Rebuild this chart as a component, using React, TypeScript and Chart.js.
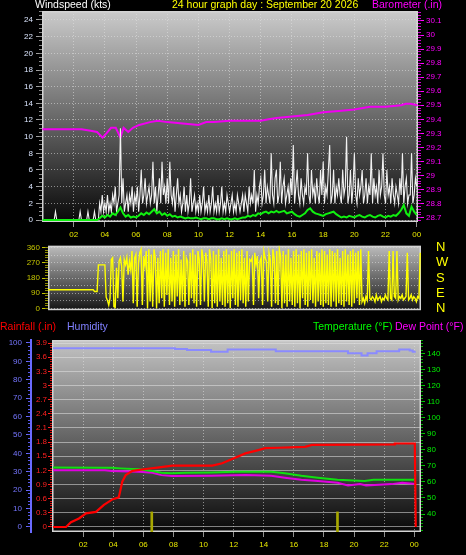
import React, { useEffect, useRef } from "react";
import { Chart, registerables } from "chart.js";

Chart.register(...registerables);

const FAMILY = "'Liberation Sans', Arial, sans-serif";

// ---------- Top chart: wind gust (5-minute samples, hour = index / 12) ----------
const windGust = [
  0, 0, 0, 0, 0, 0, 0, 0, 0, 0, 1, 0,
  0, 0, 0, 0, 0, 0, 0, 0, 0, 0, 0, 0,
  0, 0, 0, 0, 0, 1, 0, 0, 0, 0, 0, 1,
  0, 0, 0, 0, 1, 0, 0, 0, 2, 1, 3, 1,
  2, 1, 3, 1, 2, 1, 3, 2, 4, 1, 2, 3,
  11, 2, 5, 1, 2, 3, 1, 3, 2, 4, 1, 3,
  2, 4, 1, 3, 6, 2, 3, 5, 2, 3, 4, 2,
  3, 7, 2, 4, 1, 3, 5, 2, 7, 3, 4, 2,
  5, 2, 7, 3, 2, 4, 1, 3, 5, 2, 3, 1,
  2, 4, 1, 3, 1, 2, 5, 1, 2, 3, 1, 2,
  1, 3, 1, 2, 4, 1, 2, 1, 3, 1, 2, 4,
  1, 2, 1, 3, 1, 2, 4, 1, 2, 1, 3, 2,
  1, 2, 3, 1, 2, 1, 3, 2, 1, 2, 3, 1,
  3, 2, 1, 4, 2, 3, 2, 6, 1, 3, 2, 4,
  5, 2, 3, 6, 2, 4, 3, 2, 8, 3, 2, 5,
  6, 2, 3, 7, 2, 4, 5, 2, 3, 4, 2, 5,
  3, 9, 2, 4, 6, 3, 2, 5, 3, 2, 4, 3,
  8, 3, 2, 6, 3, 4, 2, 5, 3, 2, 6, 3,
  7, 2, 4, 3, 6, 9, 2, 3, 6, 2, 4, 3,
  5, 3, 2, 6, 3, 4, 10, 2, 3, 6, 2, 4,
  8, 3, 2, 5, 3, 4, 6, 2, 3, 5, 2, 4,
  3, 8, 2, 5, 3, 4, 2, 6, 3, 4, 8, 3,
  2, 6, 3, 4, 2, 5, 3, 2, 4, 3, 2, 5,
  3, 8, 2, 4, 5, 2, 3, 3, 8, 2, 3, 5,
  4,
];
// average wind (10-minute samples, hour = index / 6)
const windAvg = [
  0, 0, 0, 0, 0, 0, 0, 0, 0, 0, 0, 0, 0, 0, 0, 0, 0, 0, 0, 0, 0, 0,
  0.2, 0.5, 0.3, 0.6, 0.4, 0.8, 0.6, 1.0, 1.5, 0.8, 0.4, 0.6, 0.3, 0.4, 0.3, 0.5, 0.8, 0.6, 0.9, 0.7, 1.0, 1.3, 0.8, 1.0, 0.6, 0.8,
  0.5, 0.7, 0.4, 0.5, 0.3, 0.4, 0.3, 0.2, 0.3, 0.2, 0.2, 0.3, 0.2, 0.1, 0.2, 0.2, 0.1, 0.2, 0.2, 0.1, 0.1, 0.2, 0.1, 0.2,
  0.1, 0.1, 0.2, 0.1, 0.2, 0.3, 0.3, 0.5, 0.4, 0.6, 0.5, 0.8, 0.7, 0.9, 1.0, 0.8, 1.0, 0.9, 1.1, 0.9, 1.0, 1.1, 0.8, 0.9,
  1.0, 0.7, 0.5, 0.4, 0.6, 0.8, 1.2, 1.4, 1.0, 0.8, 0.7, 0.6, 0.5, 0.7, 0.8, 0.9, 1.0, 0.7, 0.5, 0.3, 0.4, 0.3, 0.5, 0.4,
  0.3, 0.5, 0.6, 0.4, 0.3, 0.5, 0.6, 0.4, 0.3, 0.5, 0.6, 0.4, 0.3, 0.5, 0.4, 0.6, 0.5, 0.8, 1.2, 1.8, 0.8, 0.5, 1.6, 1.0, 0.6,
];
const baroHours = [0, 1, 2, 2.5, 3, 3.5, 3.85, 4.1, 4.4, 4.7, 5.0, 5.2, 5.5, 5.8, 6.2, 6.9, 7.4, 8, 9, 10, 10.5, 11, 12, 13, 14, 14.5, 15, 16, 17, 18, 19, 20, 21, 22, 23, 23.3, 23.6, 24.05];
const baroValues = [29.33, 29.33, 29.33, 29.33, 29.32, 29.31, 29.27, 29.3, 29.34, 29.34, 29.27, 29.34, 29.31, 29.34, 29.36, 29.38, 29.39, 29.38, 29.37, 29.36, 29.38, 29.38, 29.39, 29.39, 29.39, 29.4, 29.41, 29.42, 29.43, 29.45, 29.46, 29.47, 29.49, 29.49, 29.5, 29.51, 29.51, 29.5];

// ---------- Middle chart: wind direction (5-minute samples) ----------
const windDir = [
  110, 110, 110, 110, 110, 110, 110, 110, 110, 110, 110, 110,
  110, 110, 110, 110, 110, 110, 110, 110, 110, 110, 110, 110,
  110, 110, 110, 110, 110, 110, 110, 110, 110, 110, 110, 110,
  100, 100, 100, 258, 258, 258, 258, 258, 258, 66, 47, 19,
  60, 290, 300, 10, 5, 240, 60, 280, 300, 250, 40, 290,
  260, 300, 200, 280, 230, 340, 30, 300, 320, 10, 270, 330,
  350, 20, 310, 250, 340, 0, 350, 40, 320, 10, 350, 300,
  0, 300, 30, 340, 60, 350, 10, 330, 80, 350, 20, 300,
  40, 340, 10, 320, 70, 350, 20, 290, 40, 340, 10, 300,
  280, 20, 330, 60, 350, 30, 320, 10, 340, 290, 20, 350,
  300, 40, 330, 280, 10, 350, 290, 0, 340, 30, 320, 10,
  350, 40, 300, 20, 340, 10, 350, 30, 320, 0, 340, 60,
  350, 20, 330, 10, 340, 50, 350, 30, 300, 10, 340, 40,
  290, 280, 300, 20, 330, 260, 310, 60, 280, 300, 20, 340,
  300, 280, 40, 330, 290, 10, 350, 300, 30, 340, 20, 350,
  310, 0, 340, 30, 320, 10, 350, 40, 300, 20, 340, 10,
  350, 30, 320, 0, 340, 60, 350, 20, 330, 10, 340, 50,
  350, 30, 300, 10, 340, 40, 330, 20, 350, 10, 340, 30,
  320, 20, 350, 10, 340, 40, 330, 10, 350, 30, 300, 20,
  340, 10, 350, 40, 320, 20, 340, 10, 350, 30, 330, 60,
  340, 20, 350, 40, 60, 30, 70, 50, 340, 60, 50, 70,
  60, 40, 80, 50, 60, 70, 40, 60, 50, 80, 60, 50,
  340, 60, 50, 340, 70, 60, 340, 50, 70, 60, 80, 50,
  60, 70, 330, 50, 60, 80, 50, 70, 60, 40, 70, 60,
  330,
];

// ---------- Bottom chart ----------
const rainHours = [0, 0.86, 1.19, 1.72, 2.19, 2.85, 3.38, 3.97, 4.37, 4.6, 4.83, 5.28, 6.16, 6.93, 7.93, 10.58, 11.24, 11.9, 12.78, 13.64, 14.1, 14.97, 16.75, 17.2, 22.7, 22.71, 24.04, 24.1];
const rainValues = [0, 0, 0.1, 0.18, 0.29, 0.32, 0.47, 0.59, 0.63, 0.96, 1.1, 1.19, 1.23, 1.26, 1.3, 1.3, 1.35, 1.44, 1.56, 1.63, 1.67, 1.68, 1.7, 1.74, 1.75, 1.77, 1.77, 0];
const humHours = [0, 8.1, 8.9, 10.5, 11.6, 14.8, 19.6, 20.5, 20.9, 21.5, 23.0, 23.7, 23.9, 24.1];
const humValues = [97.1, 96.7, 96.2, 95.3, 96.4, 95.5, 94.4, 93.2, 94.4, 95.5, 96.4, 95.9, 95.3, 95.3];
const tempHours = [0, 3.9, 4.5, 5.7, 6.6, 7.2, 7.9, 8.8, 10.5, 12.1, 14.5, 15.4, 16.5, 17.6, 18.9, 20.7, 21.3, 24.1];
const tempValues = [69.0, 68.8, 68.4, 67.8, 66.8, 65.7, 65.3, 65.7, 65.9, 66.3, 66.3, 65.3, 63.8, 62.6, 61.3, 60.5, 61.3, 61.3];
const dewHours = [0, 3.45, 3.9, 5.7, 6.6, 7.2, 7.9, 10.5, 12.8, 14.5, 15.4, 16.5, 17.6, 18.9, 19.6, 20.4, 20.8, 22.5, 23.2, 24.1];
const dewValues = [67.3, 67.3, 66.7, 66.3, 65.7, 64.2, 63.6, 63.8, 64.2, 63.8, 62.6, 61.3, 60.5, 59.4, 57.8, 58.6, 57.8, 58.6, 59.4, 58.6];
const rateHours = [6.56, 18.9];
const rateValues = [0.32, 0.32];

// ---------- Tick values ----------
const hourTicks = [2, 4, 6, 8, 10, 12, 14, 16, 18, 20, 22, 24];
const windTicks = [0, 2, 4, 6, 8, 10, 12, 14, 16, 18, 20, 22, 24];
const baroTicks = [28.7, 28.8, 28.9, 29, 29.1, 29.2, 29.3, 29.4, 29.5, 29.6, 29.7, 29.8, 29.9, 30, 30.1];
const dirTicks = [0, 90, 180, 270, 360];
const dirGridTicks = [0, 45, 90, 135, 180, 225, 270, 315, 360];
const dirLetters: Record<number, string> = { 0: "N", 90: "E", 180: "S", 270: "W", 360: "N" };
const humTicks = [0, 10, 20, 30, 40, 50, 60, 70, 80, 90, 100];
const rainTicks = [0, 0.3, 0.6, 0.9, 1.2, 1.5, 1.8, 2.1, 2.4, 2.7, 3, 3.3, 3.6, 3.9];
const tempTicks = [40, 50, 60, 70, 80, 90, 100, 110, 120, 130, 140];

const steps = (a: number, b: number, s: number) => {
  const out: number[] = [];
  for (let v = a; v <= b + 1e-9; v += s) out.push(+v.toFixed(3));
  return out;
};

const pts = (xs: number[], ys: number[]) => xs.map((x, i) => ({ x, y: ys[i] }));
const sampled = (ys: number[], perHour: number) => ys.map((y, i) => ({ x: i / perHour, y }));
const fixed = (vals: number[]) => (s: any) => {
  s.ticks = vals.map((v) => ({ value: v }));
};
const width = (w: number) => (s: any) => {
  s.width = w;
};
const height = (h: number) => (s: any) => {
  s.height = h;
};
const num = (v: any) => String(parseFloat(Number(v).toFixed(1)));
const hourLabel = (v: any) => String(Math.round(Number(v)) % 24).padStart(2, "0");

const GRID = "rgba(225,225,225,0.55)";
const tickFont = { family: FAMILY, size: 8 };
const CLEAR = "rgba(0,0,0,0)";

// an unlabeled zero-width axis that only draws short minor tick marks
const minorAxis = (position: string, weight: number, min: number, max: number, vals: number[], color: string, len = 3) => ({
  type: "linear", position, weight, min, max,
  afterBuildTicks: fixed(vals), afterFit: width(0),
  ticks: { display: false },
  grid: { drawOnChartArea: false, tickColor: color, tickLength: len },
  border: { display: false },
});

const plotBg = (c1: string, c2: string) => ({
  id: "plotBg",
  beforeDraw(chart: any) {
    const { ctx, chartArea: a } = chart;
    const g = ctx.createLinearGradient(0, a.top, 0, a.bottom);
    g.addColorStop(0, c1);
    g.addColorStop(1, c2);
    ctx.save();
    ctx.fillStyle = g;
    ctx.fillRect(a.left, a.top, a.right - a.left, a.bottom - a.top);
    ctx.restore();
  },
  beforeDatasetsDraw(chart: any) {
    const { ctx, chartArea: a } = chart;
    ctx.save();
    ctx.strokeStyle = "#d4d4d4";
    ctx.lineWidth = 1.5;
    ctx.strokeRect(a.left + 0.75, a.top + 0.75, a.right - a.left - 1.5, a.bottom - a.top - 1.5);
    ctx.restore();
  },
});

const baseOptions = {
  responsive: false,
  animation: false as const,
  devicePixelRatio: 1,
  plugins: { legend: { display: false }, tooltip: { enabled: false } },
  elements: { point: { radius: 0 }, line: { tension: 0 } },
};

const WIND_MIN = -0.24, WIND_MAX = 25.08, BARO_MIN = 28.669, BARO_MAX = 30.171;

const topConfig = (): any => ({
  type: "line",
  data: {
    datasets: [
      { data: sampled(windAvg, 6), yAxisID: "yWind", borderColor: "#10f010", borderWidth: 2 },
      { data: sampled(windGust, 12), yAxisID: "yWind", borderColor: "#f2f2f2", borderWidth: 1.1 },
      { data: pts(baroHours, baroValues), yAxisID: "yBaro", borderColor: "#f000f0", borderWidth: 2 },
    ],
  },
  options: {
    ...baseOptions,
    layout: { padding: { top: 11, left: 0, right: 0, bottom: 0 } },
    scales: {
      x: {
        type: "linear", position: "bottom", min: -0.03, max: 24.08,
        afterBuildTicks: fixed(hourTicks), afterFit: height(245 - 222),
        ticks: { color: "#e6e600", font: tickFont, padding: 3, autoSkip: false, maxRotation: 0, callback: hourLabel },
        grid: { color: GRID, tickColor: "#909090", tickLength: 5 },
        border: { display: false, dash: [1, 2] },
      },
      yWind: {
        type: "linear", position: "left", weight: 1, min: WIND_MIN, max: WIND_MAX,
        afterBuildTicks: fixed(windTicks), afterFit: width(42),
        ticks: { color: "#dbe6ff", font: tickFont, padding: 3, autoSkip: false, callback: num },
        grid: { color: GRID, tickColor: "#a0a0a0", tickLength: 6 },
        border: { display: false, dash: [1, 2] },
      },
      yWindMinor: minorAxis("left", 0, WIND_MIN, WIND_MAX, steps(0, 25, 0.5), "#8c8c8c", 3),
      yBaro: {
        type: "linear", position: "right", weight: 1, min: BARO_MIN, max: BARO_MAX,
        afterBuildTicks: fixed(baroTicks), afterFit: width(466 - 418),
        ticks: { color: "#ff00ff", font: tickFont, padding: 2, autoSkip: false, callback: num },
        grid: { drawOnChartArea: false, color: "#ff00ff", tickColor: "#ff00ff", tickLength: 6 },
        border: { display: false },
      },
      yBaroMinor: minorAxis("right", 0, BARO_MIN, BARO_MAX, steps(28.68, 30.16, 0.02), "#d000d0", 3),
    },
  },
  plugins: [plotBg("#cbcbcb", "#080808")],
});

const DIR_MIN = -11, DIR_MAX = 371;

const midConfig = (): any => ({
  type: "line",
  data: {
    datasets: [
      { data: sampled(windDir, 12), yAxisID: "yDir", borderColor: "#ffff00", borderWidth: 1.4 },
    ],
  },
  options: {
    ...baseOptions,
    layout: { padding: { top: 6, left: 0, right: 0, bottom: 6 } },
    scales: {
      x: { type: "linear", min: 0, max: 24.05, display: false },
      yDir: {
        type: "linear", position: "left", weight: 1, min: DIR_MIN, max: DIR_MAX,
        afterBuildTicks: fixed(dirTicks), afterFit: width(48),
        ticks: { color: "#c4c400", font: tickFont, padding: 2, autoSkip: false },
        grid: { drawOnChartArea: false, tickColor: "#c4c400", tickLength: 6 },
        border: { display: false },
      },
      yDirMinor: minorAxis("left", 0, DIR_MIN, DIR_MAX, steps(0, 360, 15), "#8c8c00", 3),
      yCompass: {
        type: "linear", position: "right", min: DIR_MIN, max: DIR_MAX,
        afterBuildTicks: fixed(dirGridTicks), afterFit: width(466 - 421),
        ticks: {
          color: "#ffff00", font: { family: FAMILY, size: 13 }, padding: 0, autoSkip: false,
          callback: (v: any) => dirLetters[Number(v)] ?? "",
        },
        grid: { color: GRID, drawTicks: true, tickLength: 15, tickColor: CLEAR },
        border: { display: false, dash: [1, 2] },
      },
    },
  },
  plugins: [plotBg("#bdbdbd", "#141414")],
});

const HUM_MIN = -2.72, HUM_MAX = 101.63, RAIN_MIN = -0.106, RAIN_MAX = 3.964, TEMP_MIN = 28.8, TEMP_MAX = 148.3;

const bottomConfig = (): any => ({
  type: "line",
  data: {
    datasets: [
      { data: pts(rainHours, rainValues), yAxisID: "yRain", borderColor: "#ff0000", borderWidth: 2.2 },
      { data: pts(tempHours, tempValues), yAxisID: "yTemp", borderColor: "#10e010", borderWidth: 2 },
      { data: pts(dewHours, dewValues), yAxisID: "yTemp", borderColor: "#e000e0", borderWidth: 2 },
      { data: pts(humHours, humValues), yAxisID: "yHum", borderColor: "#8a8aff", borderWidth: 2, stepped: true },
      {
        type: "bar", data: pts(rateHours, rateValues), yAxisID: "yRain", base: RAIN_MIN,
        backgroundColor: "#a8a800", barThickness: 2, grouped: false,
      },
    ],
  },
  options: {
    ...baseOptions,
    layout: { padding: { top: 10, left: 0, right: 0, bottom: 0 } },
    scales: {
      x: {
        type: "linear", position: "bottom", min: -0.07, max: 24.45, offset: false,
        afterBuildTicks: fixed(hourTicks), afterFit: height(225 - 202),
        ticks: { color: "#e6e600", font: tickFont, padding: 3, autoSkip: false, maxRotation: 0, callback: hourLabel },
        grid: { color: GRID, tickColor: "#909090", tickLength: 5, offset: false },
        border: { display: false, dash: [1, 2] },
      },
      yHum: {
        type: "linear", position: "left", weight: 10, min: HUM_MIN, max: HUM_MAX,
        afterBuildTicks: fixed(humTicks), afterFit: width(31),
        ticks: { color: "#7676ff", font: tickFont, padding: 4, autoSkip: false },
        grid: { drawOnChartArea: false, tickColor: "#6a6aff", tickLength: 5 },
        border: { display: true, color: "#6a6aff", width: 2 },
      },
      yHumMinor: minorAxis("left", 5, HUM_MIN, HUM_MAX, steps(0, 100, 2), "#5a5aee", 3),
      yRain: {
        type: "linear", position: "left", weight: 1, min: RAIN_MIN, max: RAIN_MAX,
        afterBuildTicks: fixed(rainTicks), afterFit: width(21),
        ticks: { color: "#ff2020", font: tickFont, padding: 1, autoSkip: false, callback: num },
        grid: { color: GRID, tickColor: "#ff2020", tickLength: 4 },
        border: { display: false },
      },
      yRainMinor: minorAxis("left", 0, RAIN_MIN, RAIN_MAX, steps(0, 3.9, 0.05), "#e01010", 2),
      yTemp: {
        type: "linear", position: "right", weight: 1, min: TEMP_MIN, max: TEMP_MAX,
        afterBuildTicks: fixed(tempTicks), afterFit: width(466 - 421),
        ticks: { color: "#00ee00", font: tickFont, padding: 2, autoSkip: false },
        grid: { drawOnChartArea: false, tickColor: "#00cc00", tickLength: 4 },
        border: { display: false },
      },
      yTempMinor: minorAxis("right", 0, TEMP_MIN, TEMP_MAX, steps(30, 148, 2), "#00b000", 2),
    },
  },
  plugins: [plotBg("#c4c4c4", "#080808")],
});

function ChartCanvas({ top, h, make }: { top: number; h: number; make: () => any }) {
  const ref = useRef<HTMLCanvasElement>(null);
  useEffect(() => {
    const chart = new Chart(ref.current as HTMLCanvasElement, make());
    return () => chart.destroy();
  }, []);
  return (
    <canvas
      ref={ref}
      width={466}
      height={h}
      style={{ position: "absolute", left: 0, top, width: 466, height: h }}
    />
  );
}

const Label = ({ x, y, color, children }: { x: number; y: number; color: string; children: React.ReactNode }) => (
  <div
    style={{
      position: "absolute", left: x, top: y, color, whiteSpace: "nowrap",
      font: `10.5px ${FAMILY}`, lineHeight: "12px",
    }}
  >
    {children}
  </div>
);

export default function App() {
  return (
    <div
      style={{
        position: "fixed", left: 0, top: 0, width: 466, height: 555,
        background: "#000", overflow: "hidden",
      }}
    >
      <ChartCanvas top={0} h={245} make={topConfig} />
      <ChartCanvas top={238} h={80} make={midConfig} />
      <ChartCanvas top={330} h={225} make={bottomConfig} />
      <Label x={35} y={-2} color="#ffffff">Windspeed (kts)</Label>
      <Label x={172} y={-2} color="#ffff00">24 hour graph day : September 20 2026</Label>
      <Label x={372} y={-2} color="#ff00ff">Barometer (.in)</Label>
      <Label x={0} y={320} color="#ff0000">Rainfall (.in)</Label>
      <Label x={67} y={320} color="#8080ff">Humidity</Label>
      <Label x={313} y={320} color="#00ff00">Temperature (°F)</Label>
      <Label x={395} y={320} color="#ff00ff">Dew Point (°F)</Label>
    </div>
  );
}
